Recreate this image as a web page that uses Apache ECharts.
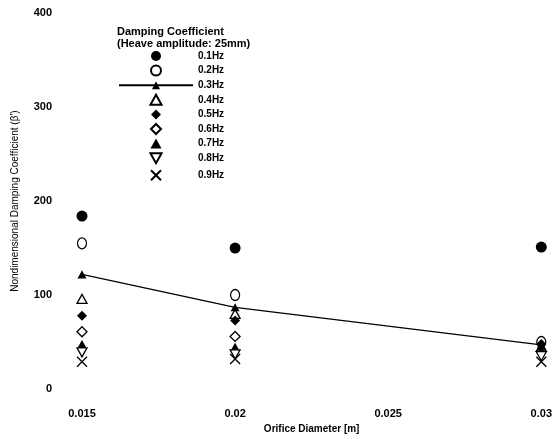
<!DOCTYPE html>
<html>
<head>
<meta charset="utf-8">
<script src="https://cdn.jsdelivr.net/npm/echarts@6/dist/echarts.min.js"></script>
<style>
  html, body { margin: 0; padding: 0; background: #fff; }
  #main { width: 555px; height: 439px; }
</style>
</head>
<body>
<div id="main"></div>
<script>
// orifice diameters (m)
var diameters = [0.015, 0.02, 0.03];
var xTicks = [0.015, 0.02, 0.025, 0.03];
var yTicks = [0, 100, 200, 300, 400];

// nondimensional damping coefficient per frequency
var hz01 = [184, 150, 151];
var hz02 = [155, 100, 50];
var hz03 = [122, 87, 47];
var hz04 = [96, 80, 45];
var hz05 = [78, 73, 48];
var hz06 = [61, 56, 40];
var hz07 = [48, 45, 42];
var hz08 = [39, 37, 35];
var hz09 = [29, 32, 29];

var myChart = echarts.init(document.getElementById('main'));

function pts(vals) {
    return vals.map(function (v, i) { return [diameters[i], v]; });
}

var FONT = '"Liberation Sans", Arial, sans-serif';
var openStyle = { color: '#fff', borderColor: '#000', borderWidth: 1.3, opacity: 1 };
var fillStyle = { color: '#000', opacity: 1 };

// symbols as paths so the legend keeps their shape
var TRI = 'path://M5,0L10,9L0,9Z';
var TRI_DOWN = 'path://M0,0L10,0L5,9Z';
var DIAMOND = 'path://M5,0L10,5L5,10L0,5Z';
var CROSS = 'path://M0,0L10,10M10,0L0,10';

var option = {
    animation: false,
    backgroundColor: '#fff',
    title: {
        text: 'Damping Coefficient\n(Heave amplitude: 25mm)',
        left: 117,
        top: 26,
        padding: 0,
        textStyle: { fontFamily: FONT, fontSize: 11, fontWeight: 'bold', color: '#000', lineHeight: 12 }
    },
    legend: {
        orient: 'vertical',
        left: 118,
        top: 51,
        padding: 0,
        itemWidth: 74,
        itemHeight: 10,
        itemGap: 3.6,
        textStyle: { fontFamily: FONT, fontSize: 10, fontWeight: 'bold', color: '#000', lineHeight: 10 },
        data: ['0.1Hz', '0.2Hz', '0.3Hz', '0.4Hz', '0.5Hz', '0.6Hz', '0.7Hz', '0.8Hz', '0.9Hz']
    },
    grid: { left: 82, right: 10, top: 13, bottom: 42 },
    xAxis: {
        type: 'value',
        min: 0.015,
        max: 0.03,
        interval: 0.005,
        name: 'Orifice Diameter [m]',
        nameLocation: 'middle',
        nameGap: 29,
        nameTextStyle: { fontFamily: FONT, fontSize: 10, fontWeight: 'bold', color: '#000' },
        axisLine: { show: false },
        axisTick: { show: false },
        splitLine: { show: false },
        axisLabel: {
            margin: 19,
            fontFamily: FONT, fontSize: 11, fontWeight: 'bold', color: '#000',
            showMaxLabel: true,
            formatter: function (v) {
                for (var i = 0; i < xTicks.length; i++) {
                    if (Math.abs(v - xTicks[i]) < 1e-9) return String(xTicks[i]);
                }
                return '';
            }
        }
    },
    yAxis: {
        type: 'value',
        min: yTicks[0],
        max: yTicks[yTicks.length - 1],
        interval: 100,
        name: "Nondimensional Damping Coefficient (β')",
        nameLocation: 'middle',
        nameGap: 62,
        nameTextStyle: { fontFamily: FONT, fontSize: 10, color: '#000' },
        axisLine: { show: false },
        axisTick: { show: false },
        splitLine: { show: false },
        axisLabel: { margin: 30, fontFamily: FONT, fontSize: 11, fontWeight: 'bold', color: '#000' }
    },
    series: [
        { name: '0.1Hz', type: 'scatter', symbol: 'circle', symbolSize: 11, itemStyle: fillStyle, data: pts(hz01) },
        { name: '0.2Hz', type: 'scatter', symbol: 'circle', symbolSize: [9, 11], itemStyle: openStyle, data: pts(hz02) },
        {
            name: '0.3Hz', type: 'line', symbol: TRI, symbolSize: 9, showAllSymbol: true, symbolKeepAspect: true,
            itemStyle: fillStyle, lineStyle: { color: '#000', width: 1.2 }, data: pts(hz03)
        },
        { name: '0.4Hz', type: 'scatter', symbol: TRI, symbolSize: 10, symbolKeepAspect: true, itemStyle: openStyle, data: pts(hz04) },
        { name: '0.5Hz', type: 'scatter', symbol: DIAMOND, symbolSize: 10, symbolKeepAspect: true, itemStyle: fillStyle, data: pts(hz05) },
        { name: '0.6Hz', type: 'scatter', symbol: DIAMOND, symbolSize: 10, symbolKeepAspect: true, itemStyle: openStyle, data: pts(hz06) },
        { name: '0.7Hz', type: 'scatter', symbol: TRI, symbolSize: 9, symbolKeepAspect: true, itemStyle: fillStyle, data: pts(hz07) },
        { name: '0.8Hz', type: 'scatter', symbol: TRI_DOWN, symbolSize: 10, symbolKeepAspect: true, itemStyle: openStyle, data: pts(hz08) },
        {
            name: '0.9Hz', type: 'scatter', symbol: CROSS, symbolSize: 10, symbolKeepAspect: true,
            itemStyle: { color: 'none', borderColor: '#000', borderWidth: 1.3, opacity: 1 }, data: pts(hz09)
        }
    ]
};

myChart.setOption(option);
</script>
</body>
</html>
